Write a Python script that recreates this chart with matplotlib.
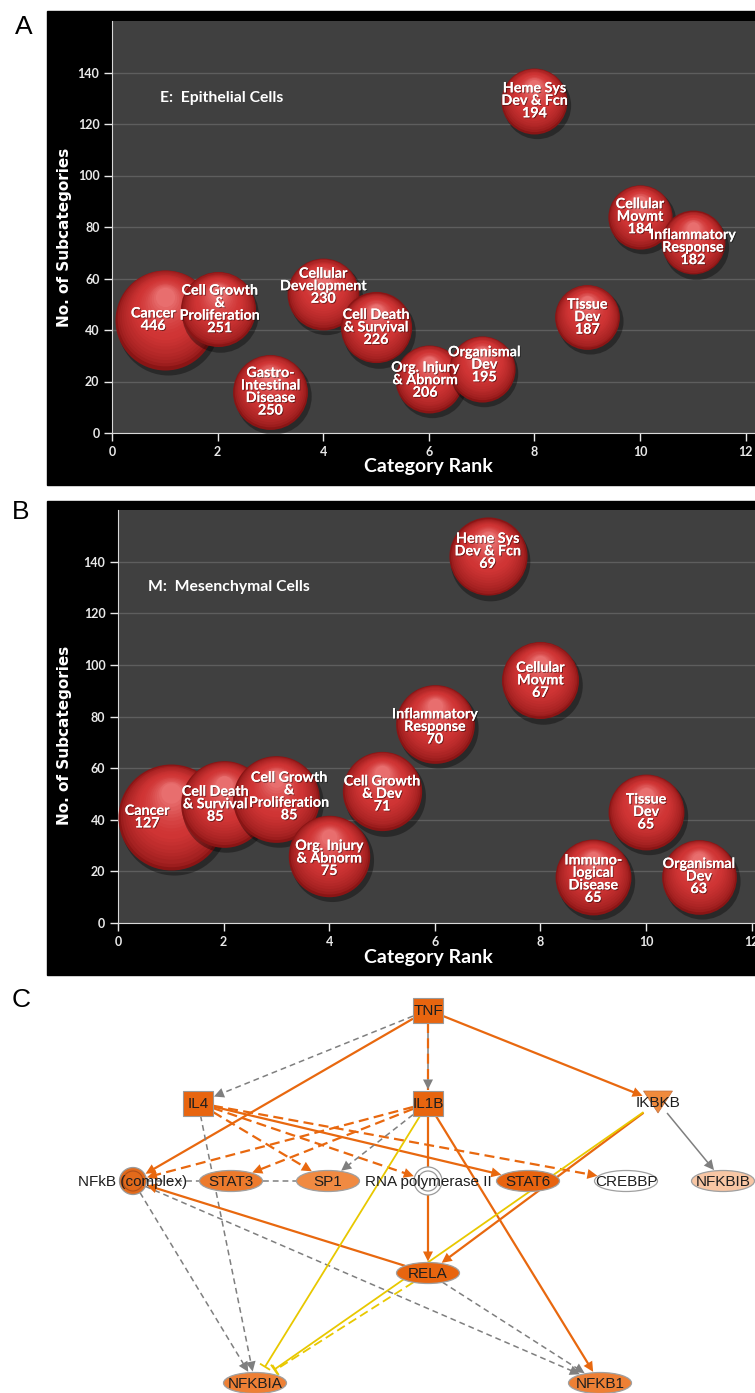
import numpy as np
import matplotlib.pyplot as plt
import matplotlib.patheffects as pe
from matplotlib.patches import Rectangle, Ellipse, Polygon, Circle
from matplotlib.transforms import offset_copy
from matplotlib.colors import to_rgb

# Panel A: epithelial cells (rank, no. of subcategories, no. of genes)
epi_names = ["Cancer", "Cell Growth\n&\nProliferation", "Gastro-\nIntestinal\nDisease",
             "Cellular\nDevelopment", "Cell Death\n& Survival", "Org. Injury\n& Abnorm",
             "Organismal\nDev", "Heme Sys\nDev & Fcn", "Tissue\nDev", "Cellular\nMovmt",
             "Inflammatory\nResponse"]
epi_rank = [1, 2, 3, 4, 5, 6, 7, 8, 9, 10, 11]
epi_subcats = [44, 48, 16, 54, 41, 21, 25, 129, 45, 84, 74]
epi_genes = [446, 251, 250, 230, 226, 206, 195, 194, 187, 184, 182]
epi_label_dx = [-0.22, 0.04, 0, 0, 0, -0.07, 0.05, 0, 0, 0, 0]
epi_label_dy = [0, 0, 0, 3, 0, -0.5, 1.5, 0, 0, 0, -2]

# Panel B: mesenchymal cells
mes_names = ["Cancer", "Cell Death\n& Survival", "Cell Growth\n&\nProliferation",
             "Org. Injury\n& Abnorm", "Cell Growth\n& Dev", "Inflammatory\nResponse",
             "Heme Sys\nDev & Fcn", "Cellular\nMovmt", "Immuno-\nlogical\nDisease",
             "Tissue\nDev", "Organismal\nDev"]
mes_rank = [1, 2, 3, 4, 5, 6, 7, 8, 9, 10, 11]
mes_subcats = [41, 46, 48, 26, 51, 77, 142, 94, 18, 43, 18]
mes_genes = [127, 85, 85, 75, 71, 70, 69, 67, 65, 65, 63]
mes_label_dx = [-0.45, -0.16, 0.24, 0, 0, 0, 0, 0, 0, 0, 0]
mes_label_dy = [0, 0, 1, -1, -1, -1, 2, 0, -1, 0, 0]

# Panel C: network nodes and edges
node_names = ["TNF", "IL4", "IL1B", "IKBKB", "NFkB (complex)", "STAT3", "SP1",
              "RNA polymerase II", "STAT6", "CREBBP", "NFKBIB", "RELA", "NFKBIA", "NFKB1"]
node_x = [428, 198, 428, 658, 133, 231, 328, 428, 528, 626, 723, 428, 255, 600]
node_y = [1010, 1103, 1103, 1102, 1181, 1181, 1181, 1181, 1181, 1181, 1181, 1273, 1383, 1383]
node_shape = ["square", "square", "square", "triangle", "complex", "ellipse", "ellipse",
              "double", "ellipse", "ellipse", "ellipse", "ellipse", "ellipse", "ellipse"]
node_fill = ["#e8650f", "#e8650f", "#e8650f", "#f08a3c", "#e26a1b", "#ec7a2c", "#f08a42",
             "white", "#e8630f", "white", "#f8c6a4", "#e8650f", "#ee8035", "#ee8035"]

edges = [
    ("TNF", "IL4", "gray", "--", "arrow"),
    ("TNF", "NFkB (complex)", "orange", "-", "arrow"),
    ("TNF", "IL1B", "gray", "-", "arrow"),
    ("TNF", "IL1B", "orange", "--", None),
    ("TNF", "IKBKB", "orange", "-", "arrow"),
    ("IL4", "NFKBIA", "gray", "--", "arrow"),
    ("IL4", "SP1", "orange", "--", "arrow"),
    ("IL4", "RNA polymerase II", "orange", "--", "arrow"),
    ("IL4", "STAT6", "orange", "-", "arrow"),
    ("IL4", "CREBBP", "orange", "--", "arrow"),
    ("IL1B", "NFkB (complex)", "orange", "--", "arrow"),
    ("IL1B", "STAT3", "orange", "--", "arrow"),
    ("IL1B", "SP1", "gray", "--", "arrow"),
    ("IL1B", "NFKBIA", "yellow", "-", "bar"),
    ("IL1B", "RELA", "orange", "-", "arrow"),
    ("IL1B", "NFKB1", "orange", "-", "arrow"),
    ("IKBKB", "NFKBIB", "gray", "-", "arrow"),
    ("IKBKB", "RELA", "orange", "-", "arrow"),
    ("IKBKB", "NFKBIA", "yellow", "-", "bar"),
    ("RELA", "NFKBIA", "yellow", "--", "bar"),
    ("RELA", "NFkB (complex)", "orange", "-", "arrow"),
    ("RELA", "NFKB1", "gray", "--", "arrow"),
    ("NFkB (complex)", "NFKBIA", "gray", "--", "arrow"),
    ("NFkB (complex)", "NFKB1", "gray", "--", "arrow"),
    ("NFkB (complex)", "STAT3", "gray", "--", None),
    ("STAT3", "SP1", "gray", "--", None),
]

W, H = 755, 1393
fig = plt.figure(figsize=(W / 100, H / 100), dpi=100)
fig.patch.set_facecolor("white")


def px_box(x0, y0, x1, y1):
    # pixel box (top-left origin) -> figure fraction
    return [x0 / W, 1 - y1 / H, (x1 - x0) / W, (y1 - y0) / H]


def sphere(ax, x, y, d_px, z):
    # red glossy ball made of stacked, shifted discs
    d = d_px * 72 / fig.dpi
    dark = np.array(to_rgb("#8a1515"))
    mid = np.array(to_rgb("#cf3434"))
    light = np.array(to_rgb("#ec7878"))
    # soft shadow to the lower right
    tr = offset_copy(ax.transData, fig=fig, x=2, y=-3, units="points")
    ax.scatter([x], [y], s=(d * 1.02) ** 2, color="black", alpha=0.35, lw=0,
               transform=tr, zorder=z)
    ax.scatter([x], [y], s=d ** 2, color=dark, lw=0, zorder=z)
    n = 20
    for i in range(1, n):
        f = i / n
        dd = d * (1 - 0.85 * f)
        dy = 0.24 * d * f
        if f < 0.45:
            c = dark + (mid - dark) * (f / 0.45) ** 0.6
        else:
            c = mid + (light - mid) * ((f - 0.45) / 0.55) ** 1.6
        tr = offset_copy(ax.transData, fig=fig, x=0, y=dy, units="points")
        ax.scatter([x], [y], s=dd ** 2, color=c, lw=0, transform=tr, zorder=z)


def bubble_panel(box, frame, letter, title, title_xy, names, rank, subcats, genes,
                 label_dx, label_dy, d_max, ylab_y, xlab_y):
    fig.add_artist(Rectangle((frame[0] / W, 1 - frame[3] / H), (frame[2] - frame[0]) / W,
                             (frame[3] - frame[1]) / H, transform=fig.transFigure,
                             color="black", zorder=-5))
    ax = fig.add_axes(px_box(*box))
    ax.set_facecolor("#404040")
    ax.set_xlim(0, (box[2] - box[0]) / 52.8)
    ax.set_ylim(0, 160)
    ax.set_xticks([0, 2, 4, 6, 8, 10, 12])
    ax.set_yticks([0, 20, 40, 60, 80, 100, 120, 140])
    ax.grid(axis="y", color="#5e5e5e", lw=1)
    ax.set_axisbelow(True)
    for s in ("top", "right"):
        ax.spines[s].set_visible(False)
    for s in ("left", "bottom"):
        ax.spines[s].set_color("#d8d8d8")
    ax.tick_params(colors="#e8e8e8", length=6, width=1, labelsize=9, pad=3)
    for lab in ax.get_xticklabels() + ax.get_yticklabels():
        lab.set_fontfamily("Lato")
        lab.set_fontweight("bold")

    gmax = max(genes)
    shadow = [pe.withSimplePatchShadow(offset=(0.7, -0.7), shadow_rgbFace="black",
                                       alpha=0.45), pe.Normal()]
    for k in range(len(names)):
        sphere(ax, rank[k], subcats[k], d_max * np.sqrt(genes[k] / gmax), 3 + 0.01 * k)
        ax.text(rank[k] + label_dx[k], subcats[k] + label_dy[k], f"{names[k]}\n{genes[k]}",
                color="white", fontsize=10.3, fontweight="bold", family="Lato",
                ha="center", va="center", linespacing=1.05, zorder=10,
                path_effects=shadow)

    ax.text(title_xy[0], title_xy[1], title, color="white", fontsize=11.3,
            fontweight="bold", family="Lato", ha="left", va="center")
    fig.text(65 / W, 1 - ylab_y / H, "No. of Subcategories", rotation=90, color="white",
             fontsize=11, fontweight="bold", ha="center", va="center")
    fig.text(428 / W, 1 - xlab_y / H, "Category Rank", color="white", fontsize=14,
             fontweight="bold", family="Lato", ha="center", va="center")
    fig.text(letter[1] / W, 1 - letter[2] / H, letter[0], fontsize=19,
             family="Liberation Sans", ha="center", va="center")
    return ax


bubble_panel((112, 21, 755, 433), (47, 11, 755, 485), ("A", 24, 27),
             "E:  Epithelial Cells", (0.9, 130), epi_names, epi_rank, epi_subcats,
             epi_genes, epi_label_dx, epi_label_dy, 100, 237, 467)
bubble_panel((118, 510, 755, 923), (47, 501, 755, 975), ("B", 21, 512),
             "M:  Mesenchymal Cells", (0.57, 130), mes_names, mes_rank, mes_subcats,
             mes_genes, mes_label_dx, mes_label_dy, 106, 735, 958)

# Panel C: network drawn in pixel coordinates
axC = fig.add_axes(px_box(0, 985, 755, 1393))
axC.set_xlim(0, 755)
axC.set_ylim(1393, 985)
axC.axis("off")
fig.text(21 / W, 1 - 1000 / H, "C", fontsize=19, family="Liberation Sans",
         ha="center", va="center")

half = {"square": (15, 12.5), "triangle": (14.5, 11), "complex": (13.5, 13.5),
        "double": (14, 14), "ellipse": (31.5, 10.5)}
pos = {n: (x, y) for n, x, y in zip(node_names, node_x, node_y)}
shape_of = dict(zip(node_names, node_shape))
fill_of = dict(zip(node_names, node_fill))
edge_col = {"orange": "#e8680f", "gray": "#7f7f7f", "yellow": "#e8c800"}
edge_lw = {"orange": 1.6, "gray": 1.1, "yellow": 1.3}
edge_dash = {"orange": (4.5, 2.4), "gray": (3.8, 2.6), "yellow": (5, 2.5)}


def reach(name, ux, uy):
    a, b = half[shape_of[name]]
    if shape_of[name] in ("square", "triangle"):
        rx = a / abs(ux) if abs(ux) > 1e-9 else np.inf
        ry = b / abs(uy) if abs(uy) > 1e-9 else np.inf
        return min(rx, ry)
    return 1 / np.sqrt((ux / a) ** 2 + (uy / b) ** 2)


for src, dst, col, ls, head in edges:
    (x0, y0), (x1, y1) = pos[src], pos[dst]
    L = np.hypot(x1 - x0, y1 - y0)
    ux, uy = (x1 - x0) / L, (y1 - y0) / L
    r0 = reach(src, ux, uy)
    r1 = reach(dst, -ux, -uy) + (7 if head == "bar" else 1)
    sx, sy = x0 + ux * r0, y0 + uy * r0
    ex, ey = x1 - ux * r1, y1 - uy * r1
    c = edge_col[col]
    line_end = (ex - ux * 8, ey - uy * 8) if head == "arrow" else (ex, ey)
    ln, = axC.plot([sx, line_end[0]], [sy, line_end[1]], color=c, lw=edge_lw[col],
                   zorder=2 if col != "yellow" else 2.5, solid_capstyle="butt")
    if ls == "--":
        ln.set_dashes(edge_dash[col])
    if head == "arrow":
        bx, by = ex - ux * 10, ey - uy * 10
        px, py = -uy, ux
        axC.add_patch(Polygon([(ex, ey), (bx + px * 5, by + py * 5), (bx - px * 5, by - py * 5)],
                              closed=True, color=c, lw=0, zorder=3))
    elif head == "bar":
        px, py = -uy, ux
        axC.plot([ex + px * 5, ex - px * 5], [ey + py * 5, ey - py * 5], color=c,
                 lw=1.3, zorder=3)

for n in node_names:
    x, y = pos[n]
    shp = shape_of[n]
    fc = fill_of[n]
    a, b = half[shp]
    if shp == "square":
        axC.add_patch(Rectangle((x - a, y - b), 2 * a, 2 * b, fc=fc, ec="#9a9a9a",
                                lw=0.8, zorder=4))
    elif shp == "triangle":
        axC.add_patch(Polygon([(x - a, y - b), (x + a, y - b), (x, y + b)], closed=True,
                              fc=fc, ec="#c07040", lw=0.5, zorder=4))
    elif shp == "complex":
        axC.add_patch(Circle((x, y), a, fc=fc, ec="#9a9a9a", lw=0.9, zorder=4))
        axC.add_patch(Circle((x, y), a - 3.5, fc="none", ec="#b0501a", lw=0.8, zorder=4))
    elif shp == "double":
        axC.add_patch(Circle((x, y), a, fc=fc, ec="#9a9a9a", lw=0.9, zorder=4))
        axC.add_patch(Circle((x, y), a - 4, fc="none", ec="#9a9a9a", lw=0.9, zorder=4))
    else:
        axC.add_patch(Ellipse((x, y), 2 * a, 2 * b, fc=fc, ec="#a0a0a0", lw=0.9, zorder=4))
    axC.text(x, y + 1, n, fontsize=11, family="Liberation Sans", color="#1e1e1e",
             ha="center", va="center", zorder=6)

fig.savefig("out.png", dpi=100)
